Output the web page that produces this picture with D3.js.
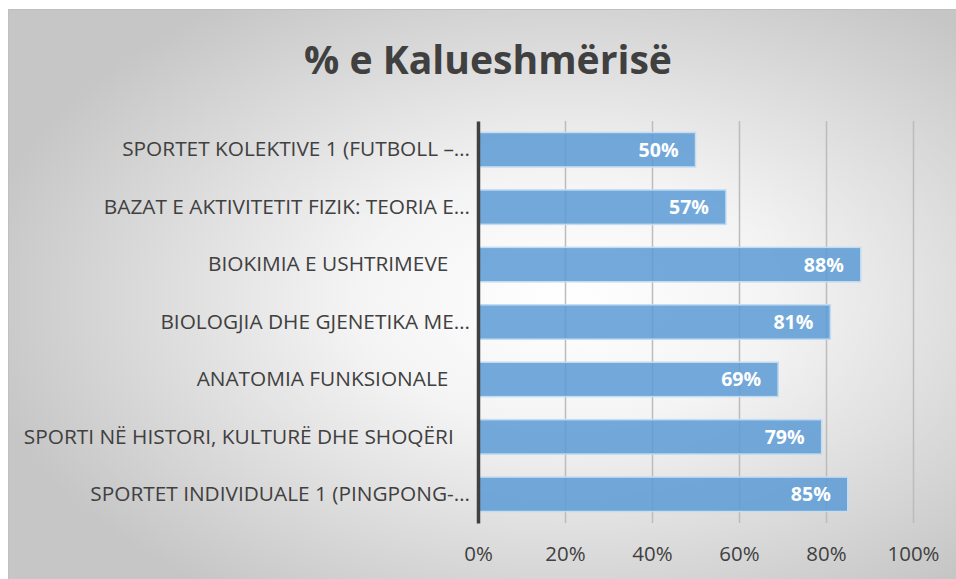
<!DOCTYPE html>
<html>
<head>
<meta charset="utf-8">
<script src="https://cdn.jsdelivr.net/npm/d3@7"></script>
<style>
  body { margin: 0; background: #fff; }
  svg text { font-family: 'Open Sans', sans-serif; }
</style>
</head>
<body>
<svg></svg>
<script>
let title = '% e Kalueshmërisë'

let categories = [
    'SPORTET KOLEKTIVE 1 (FUTBOLL –…',
    'BAZAT E AKTIVITETIT FIZIK: TEORIA E…',
    'BIOKIMIA E USHTRIMEVE    ',
    'BIOLOGJIA DHE GJENETIKA ME…',
    'ANATOMIA FUNKSIONALE    ',
    'SPORTI NË HISTORI, KULTURË DHE SHOQËRI   ',
    'SPORTET INDIVIDUALE 1 (PINGPONG-…'
]
let values = [50, 57, 88, 81, 69, 79, 85]
let xTicks = [0, 20, 40, 60, 80, 100]

let width = 956
let height = 579

let svg = d3.select('svg')
    .attr('width', width)
    .attr('height', height)

// scale font-size so the text spans the width measured on the picture
let fit = (sel, target) => {
    let w = sel.node().getComputedTextLength()
    let fs = parseFloat(sel.attr('font-size'))
    return fs * target / w
}

let drawBackground = () => {
    let defs = svg.append('defs')
    let grad = defs.append('radialGradient')
        .attr('id', 'bg')
        .attr('cx', '0.58').attr('cy', '0.5')
        .attr('r', '0.62')
    grad.append('stop').attr('offset', '0').attr('stop-color', '#ffffff')
    grad.append('stop').attr('offset', '0.35').attr('stop-color', '#f4f4f4')
    grad.append('stop').attr('offset', '1').attr('stop-color', '#c6c6c6')

    svg.append('rect')
       .attr('x', 8.5).attr('y', 9.5)
       .attr('width', 960).attr('height', 580)
       .attr('fill', 'url(#bg)')
       .attr('stroke', '#c0c0c0')
       .attr('stroke-width', 1)
}

let xScale, yScale

let generateScales = () => {
    xScale = d3.scaleLinear()
        .domain([0, 100])
        .range([478, 913])

    yScale = d3.scaleBand()
        .domain(categories)
        .range([121, 523])
        .paddingInner(0.4)
        .paddingOuter(0.2)
}

let drawGrid = () => {
    let grid = d3.axisBottom(xScale)
        .tickValues(xTicks.slice(1))
        .tickSize(-(523 - 121))
        .tickFormat('')

    let g = svg.append('g')
        .attr('transform', 'translate(0,523)')
        .call(grid)
    g.select('.domain').remove()
    g.selectAll('line')
     .attr('stroke', '#bcbcbc')
     .attr('stroke-width', 1.5)
}

let plot = () => {
    svg.selectAll('rect.bar')
       .data(values)
       .enter()
       .append('rect')
       .attr('class', 'bar')
       .attr('x', xScale(0))
       .attr('y', (d, i) => yScale(categories[i]))
       .attr('width', (d) => xScale(d) - xScale(0))
       .attr('height', yScale.bandwidth())
       .attr('fill', '#5b9bd5')
       .attr('fill-opacity', 0.85)
       .attr('stroke', '#c4dcf1')
       .attr('stroke-width', 1.5)

    let labels = svg.selectAll('text.val')
       .data(values)
       .enter()
       .append('text')
       .attr('class', 'val')
       .attr('x', (d) => xScale(d) - 17)
       .attr('y', (d, i) => yScale(categories[i]) + yScale.bandwidth() / 2)
       .attr('dy', '0.36em')
       .attr('text-anchor', 'end')
       .attr('font-size', 20)
       .attr('font-weight', 700)
       .attr('fill', '#ffffff')
       .text((d) => d + '%')
    let fs = fit(labels.filter((d, i) => i === 0), 40)
    labels.attr('font-size', fs)
}

let generateAxes = () => {
    let xAxis = d3.axisBottom(xScale)
        .tickValues(xTicks)
        .tickSize(0)
        .tickPadding(23)
        .tickFormat((d) => d + '%')

    let gx = svg.append('g')
        .attr('transform', 'translate(0,523)')
        .call(xAxis)
    gx.select('.domain').remove()
    gx.selectAll('text')
      .attr('fill', '#404040')
      .attr('font-size', 20)
      .attr('font-family', null)
    let fsx = fit(gx.selectAll('text').filter((d) => d === 100), 52)
    gx.selectAll('text').attr('font-size', fsx)

    // trailing spaces kept as no-break spaces so they push the text left
    let yAxis = d3.axisLeft(yScale)
        .tickSize(0)
        .tickPadding(8)
        .tickFormat((d) => d.replace(/ /g, '\u00A0'))

    let gy = svg.append('g')
        .attr('transform', 'translate(' + xScale(0) + ',0)')
        .call(yAxis)
    gy.select('.domain')
      .attr('stroke', '#404040')
      .attr('stroke-width', 3.5)
    gy.selectAll('text')
      .attr('fill', '#404040')
      .attr('font-size', 20)
      .attr('font-family', null)
    let fsy = fit(gy.selectAll('text').filter((d, i) => i === 0), 348)
    gy.selectAll('text').attr('font-size', fsy)
}

let drawTitle = () => {
    let t = svg.append('text')
       .text(title)
       .attr('x', 488)
       .attr('y', 74)
       .attr('text-anchor', 'middle')
       .attr('font-size', 40)
       .attr('font-weight', 700)
       .attr('fill', '#404040')
    t.attr('font-size', fit(t, 368))
}

drawBackground()
generateScales()
drawGrid()
plot()
generateAxes()
drawTitle()
</script>
</body>
</html>
